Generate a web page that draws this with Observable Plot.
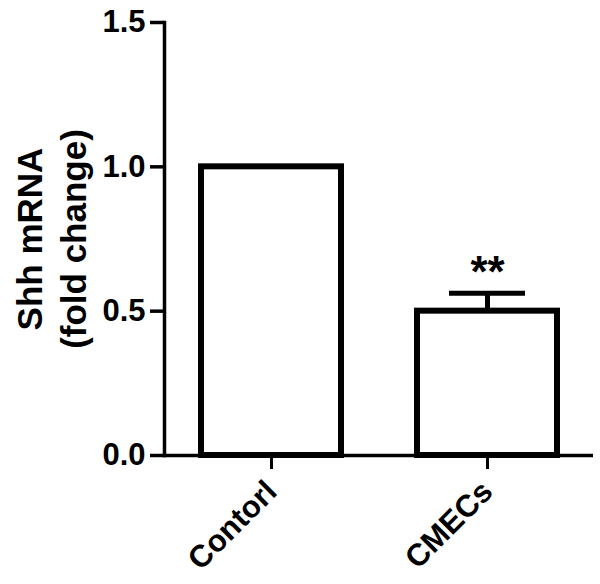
<!DOCTYPE html>
<html><head><meta charset="utf-8">
<script src="https://cdn.jsdelivr.net/npm/d3@7"></script>
<script src="https://cdn.jsdelivr.net/npm/@observablehq/plot@0.6"></script>
<style>body{margin:0;background:#fff}</style>
</head><body><div id="chart"></div>
<script>
const groups = ["Contorl", "CMECs"];
const values = [1.0, 0.5];
const errors = [0, 0.062];
const sigMarks = ["", "**"];
const yTicks = [0, 0.5, 1.0, 1.5];
const yLabel = "Shh mRNA\n(fold change)";

const data = groups.map((g, i) => ({group: g, value: values[i], err: errors[i], sig: sigMarks[i]}));
const errData = data.filter(d => d.err > 0);

const font = "Arial, 'Liberation Sans', sans-serif";
const chart = Plot.plot({
  width: 600, height: 584,
  marginLeft: 164, marginRight: 7, marginTop: 22, marginBottom: 129,
  style: {fontFamily: font, background: "#fff", color: "#000"},
  x: {domain: groups, paddingInner: 0.352, paddingOuter: 0.169, axis: null},
  y: {domain: [0, 1.5], axis: null},
  marks: [
    Plot.ruleX(errData, {x: "group", y1: "value", y2: d => d.value + d.err, strokeWidth: 5}),
    Plot.tickY(errData, {x: "group", y: d => d.value + d.err, strokeWidth: 5, insetLeft: 32, insetRight: 32}),
    Plot.barY(data, {x: "group", y: "value", fill: "white", stroke: "black", strokeWidth: 6}),
    Plot.text(errData, {x: "group", y: d => d.value + d.err, text: "sig", dy: -6, fontSize: 44, fontWeight: "bold", lineAnchor: "bottom"}),
    Plot.ruleY([0], {strokeWidth: 3.5}),
    Plot.frame({anchor: "left", strokeWidth: 3.5}),
    Plot.axisY({ticks: yTicks, tickFormat: d3.format(".1f"), tickSize: 14, tickPadding: 5, fontSize: 31, fontWeight: "bold", strokeWidth: 3.5, label: null}),
    Plot.axisX({tickSize: 14, tickPadding: 17, tickRotate: -45, fontSize: 31, fontWeight: "bold", strokeWidth: 3, label: null}),
    Plot.text([yLabel], {text: d => d, frameAnchor: "left", dx: -115, rotate: -90, fontSize: 35, fontWeight: "bold", textAnchor: "middle", lineAnchor: "middle", lineHeight: 1.27})
  ]
});
document.getElementById("chart").appendChild(chart);
</script>
</body></html>
